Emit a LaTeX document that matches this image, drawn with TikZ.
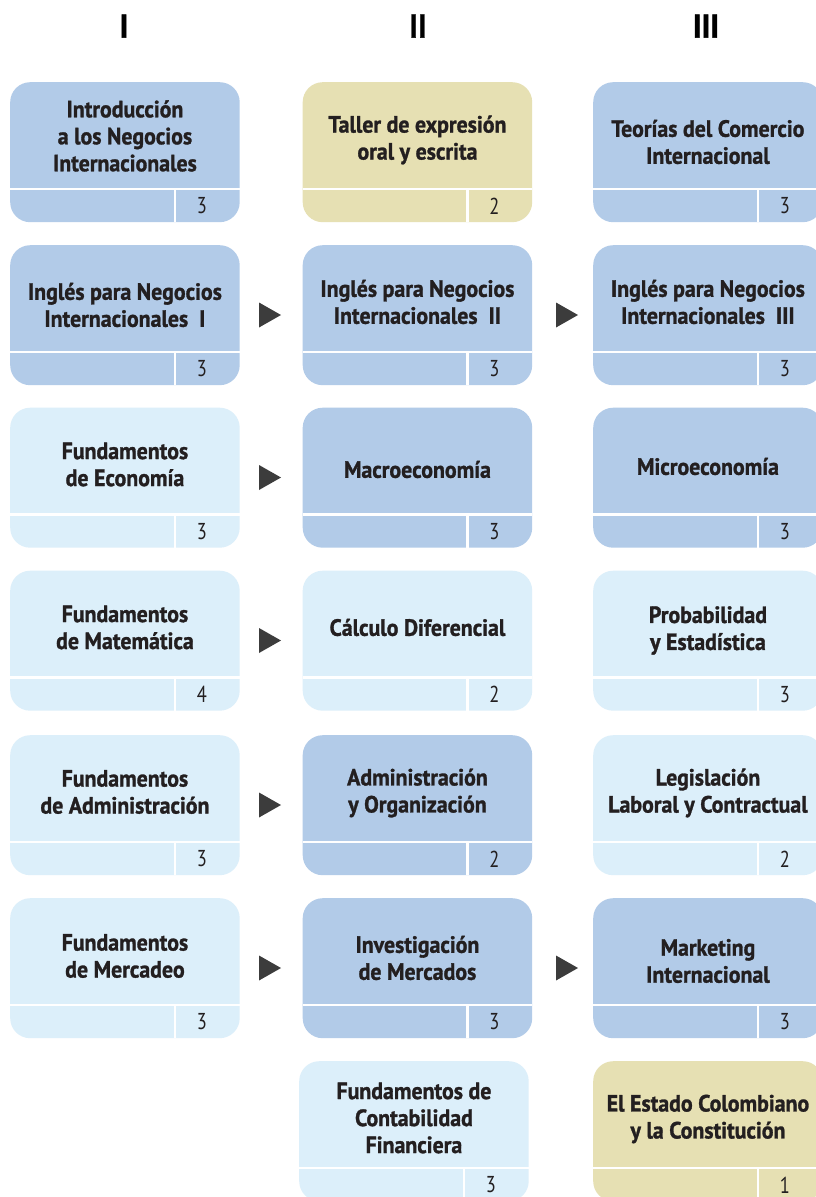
\documentclass[tikz,border=0pt]{standalone}
\usepackage{fontspec}
\usetikzlibrary{calc}
\newfontfamily\cfont{PT Sans}[FakeStretch=0.8]
\newfontfamily\tfont{PT Sans}[FakeStretch=0.93, FakeBold=1.2]
\definecolor{dblue}{HTML}{B2CBE8}
\definecolor{lblue}{HTML}{DCEFFA}
\definecolor{khaki}{HTML}{E6E0B3}
\definecolor{txt}{HTML}{231F20}
\definecolor{arrowc}{HTML}{3C3C3C}
\tikzset{
  box/.style={draw=none, rounded corners=20pt, minimum width=229.5pt, minimum height=140pt, inner sep=0pt},
  sep/.style={draw=white, line width=2.5pt},
  title/.style={align=center, text=txt, inner sep=0pt, font=\tfont\bfseries\fontsize{23.5}{27}\selectfont},
  num/.style={text=txt, inner sep=0pt, font=\cfont\fontsize{23}{23}\selectfont},
  head/.style={text=black, inner sep=0pt, font=\tfont\bfseries\fontsize{33}{33}\selectfont},
}
\newcommand\course[7]{%
  \node[box, fill=#4, anchor=north west] (#1) at (#2,#3) {};
  \draw[sep] ($(#1.north west)+(0,107)$) -- ($(#1.north east)+(0,107)$);
  \draw[sep] ($(#1.north east)+(-65,107)$) -- ($(#1.south east)+(-65,0)$);
  \node[title] (#1t) at ($(#1.north)+(0,#7)$) {#5};
  \node[num] (#1n) at ($(#1.south east)+(-38,-16.5)$) {#6};
}
\newcommand\tri[3]{%
  \coordinate (#1) at (#2,#3);
  \fill[arrowc] ($(#1)+(-11,-12.5)$) -- ($(#1)+(11,0)$) -- ($(#1)+(-11,12.5)$) -- cycle;
}
\begin{document}
\begin{tikzpicture}[x=1pt,y=-1pt]
\useasboundingbox (0,0) rectangle (816,1197);
\clip (0,0) rectangle (816,1197);
\fill[white] (0,0) rectangle (816,1197);
\node[head] (h1) at (124,26) {I};
\node[head] (h2) at (418,26) {II};
\node[head] (h3) at (706,26) {III};
% row 1
\course{b11}{10}{82}{dblue}{Introducción\\a los Negocios\\Internacionales}{3}{54}
\course{b12}{302.5}{82}{khaki}{Taller de expresión\\oral y escrita}{2}{58}
\course{b13}{593}{82}{dblue}{Teorías del Comercio\\Internacional}{3}{60}
% row 2
\course{b21}{10}{245}{dblue}{Inglés para Negocios\\Internacionales\ \ I}{3}{60}
\course{b22}{302.5}{245}{dblue}{Inglés para Negocios\\Internacionales\ \ II}{3}{57}
\course{b23}{593}{245}{dblue}{Inglés para Negocios\\Internacionales\ \ III}{3}{57}
% row 3
\course{b31}{10}{407.5}{lblue}{Fundamentos\\de Economía}{3}{57}
\course{b32}{302.5}{407.5}{dblue}{Macroeconomía}{3}{62}
\course{b33}{593}{407.5}{dblue}{Microeconomía}{3}{59}
% row 4
\course{b41}{10}{570.5}{lblue}{Fundamentos\\de Matemática}{4}{57}
\course{b42}{302.5}{570.5}{lblue}{Cálculo Diferencial}{2}{57}
\course{b43}{593}{570.5}{lblue}{Probabilidad\\y Estadística}{3}{60}
% row 5
\course{b51}{10}{735}{lblue}{Fundamentos\\de Administración}{3}{57}
\course{b52}{302.5}{735}{dblue}{Administración\\y Organización}{2}{58}
\course{b53}{593}{735}{lblue}{Legislación\\Laboral y Contractual}{2}{58}
% row 6
\course{b61}{10}{898}{lblue}{Fundamentos\\de Mercadeo}{3}{58}
\course{b62}{302.5}{898}{dblue}{Investigación\\de Mercados}{3}{60}
\course{b63}{593}{898}{dblue}{Marketing\\Internacional}{3}{63}
% row 7
\course{b72}{299}{1061}{lblue}{Fundamentos de\\Contabilidad\\Financiera}{3}{57}
\course{b73}{593}{1061}{khaki}{El Estado Colombiano\\y la Constitución}{1}{58}
% arrows
\tri{a21}{270}{315}
\tri{a22}{567}{315}
\tri{a31}{270}{477.5}
\tri{a41}{270}{640.5}
\tri{a51}{270}{805}
\tri{a61}{270}{968}
\tri{a62}{567}{968}
\end{tikzpicture}
\end{document}
